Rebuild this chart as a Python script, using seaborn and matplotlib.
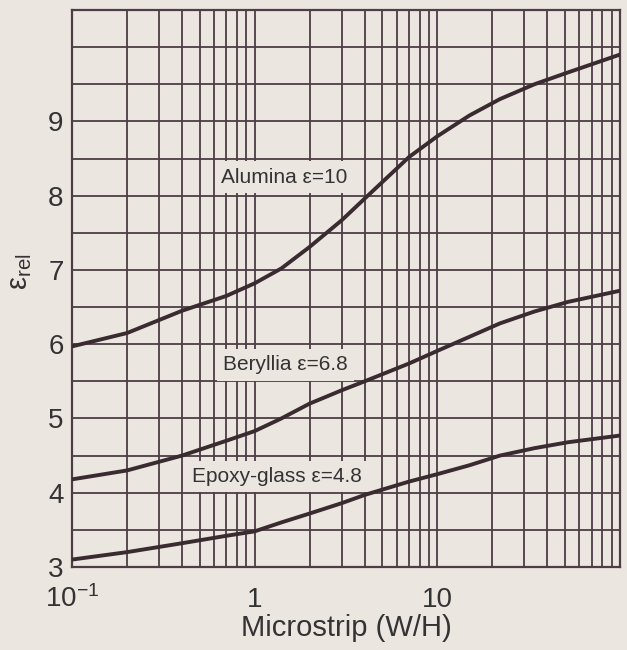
# Effective dielectric constant of microstrip vs W/H
import numpy as np
import pandas as pd
import matplotlib
matplotlib.use("Agg")
import matplotlib.pyplot as plt
import matplotlib.ticker as mticker
import seaborn as sns

# values
wh_ratio = [0.1, 0.2, 0.4, 0.7, 1, 1.4, 2, 3, 4, 7, 10, 15, 22, 34, 52, 100]
alumina = [5.97, 6.15, 6.45, 6.65, 6.82, 7.02, 7.31, 7.67, 7.96, 8.52, 8.8, 9.08, 9.3, 9.5, 9.66, 9.9]
beryllia = [4.18, 4.3, 4.5, 4.7, 4.83, 5.0, 5.2, 5.38, 5.5, 5.74, 5.91, 6.1, 6.28, 6.44, 6.57, 6.72]
epoxy = [3.1, 3.2, 3.32, 3.42, 3.48, 3.6, 3.72, 3.86, 3.97, 4.15, 4.25, 4.37, 4.5, 4.6, 4.68, 4.77]
materials = ["Alumina", "Beryllia", "Epoxy-glass"]
curve_labels = ["Alumina ε=10", "Beryllia ε=6.8", "Epoxy-glass ε=4.8"]
x_ticks = [0.1, 1, 10, 100]
x_ticklabels = [r"$\mathregular{10^{-1}}$", "1", "10", ""]
y_ticks = [3, 4, 5, 6, 7, 8, 9]

df = pd.DataFrame({
    "wh": wh_ratio * 3,
    "eps": alumina + beryllia + epoxy,
    "material": [m for m in materials for _ in wh_ratio],
})

bg = "#ece6e1"
ink = "#4d3d45"
curve_col = "#3a2b31"
txt = "#333333"

sns.set_style("white")
plt.rcParams["font.family"] = ["Liberation Sans", "DejaVu Sans"]
plt.rcParams["mathtext.fontset"] = "custom"
plt.rcParams["mathtext.rm"] = "Liberation Sans"

fig = plt.figure(figsize=(6.27, 6.5), dpi=100, facecolor=bg)
ax = fig.add_axes([0.1148, 0.1277, 0.874, 0.8569])
ax.set_facecolor(bg)

sns.lineplot(data=df, x="wh", y="eps", hue="material", palette=[curve_col] * 3,
             legend=False, lw=2.8, ax=ax, zorder=4)

ax.set_xscale("log")
ax.set_xlim(0.1, 100)
ax.set_ylim(3, 10.5)

ax.xaxis.set_major_locator(mticker.FixedLocator(x_ticks))
ax.xaxis.set_major_formatter(mticker.FixedFormatter(x_ticklabels))
ax.xaxis.set_minor_locator(mticker.LogLocator(base=10, subs=np.arange(2, 10), numticks=20))
ax.xaxis.set_minor_formatter(mticker.NullFormatter())
ax.yaxis.set_major_locator(mticker.FixedLocator(y_ticks))
ax.yaxis.set_minor_locator(mticker.MultipleLocator(0.5))

ax.grid(which="both", color=ink, lw=1.3)
ax.set_axisbelow(True)
ax.tick_params(which="both", length=0)
ax.tick_params(axis="y", labelsize=20, pad=6, labelcolor=txt)
ax.tick_params(axis="x", labelsize=20, pad=29, labelcolor=txt)
for lab in ax.get_xticklabels():
    lab.set_verticalalignment("baseline")

for s in ax.spines.values():
    s.set_color(ink)
    s.set_linewidth(1.6)

ax.set_xlabel("Microstrip (W/H)", fontsize=21, color=txt)
ax.xaxis.set_label_coords(0.5, -0.085)
ax.set_ylabel(r"$\mathregular{ε_{rel}}$", fontsize=21, color=txt, va="center")
ax.yaxis.set_label_coords(-0.095, 0.53)

# curve labels
box = dict(boxstyle="square,pad=0.3", fc=bg, ec="none")
ax.text(1.46, 8.25, curve_labels[0], fontsize=15, color=txt, ha="center", va="center", bbox=box, zorder=3)
ax.text(1.48, 5.72, curve_labels[1], fontsize=15, color=txt, ha="center", va="center", bbox=box, zorder=3)
ax.text(1.32, 4.22, curve_labels[2], fontsize=15, color=txt, ha="center", va="center", bbox=box, zorder=3)

fig.savefig("out.png", dpi=100, facecolor=bg)
